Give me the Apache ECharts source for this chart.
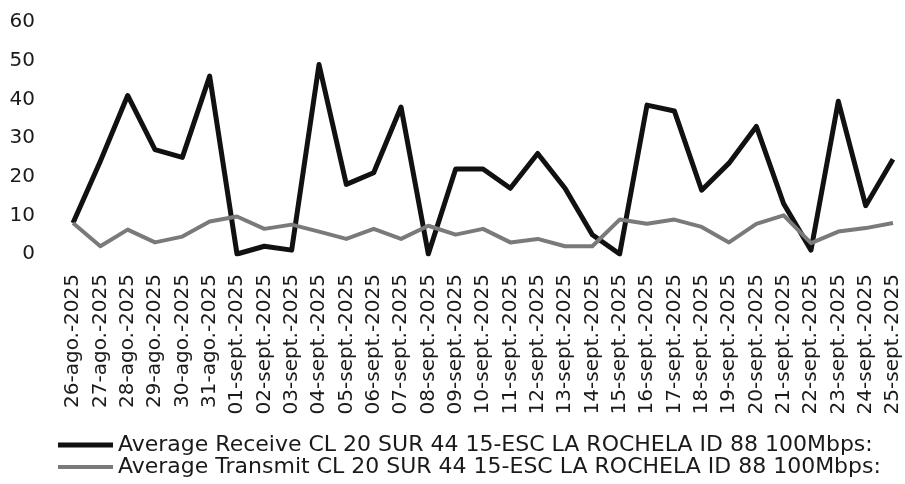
<!DOCTYPE html>
<html>
<head>
<meta charset="utf-8">
<script src="https://cdn.jsdelivr.net/npm/echarts@6/dist/echarts.min.js"></script>
<style>
    html, body { margin: 0; padding: 0; background: #fff; }
    #chart { width: 905px; height: 484px; }
</style>
</head>
<body>
<div id="chart"></div>
<script>
const dates = [
    '26-ago.-2025', '27-ago.-2025', '28-ago.-2025', '29-ago.-2025', '30-ago.-2025', '31-ago.-2025',
    '01-sept.-2025', '02-sept.-2025', '03-sept.-2025', '04-sept.-2025', '05-sept.-2025',
    '06-sept.-2025', '07-sept.-2025', '08-sept.-2025', '09-sept.-2025', '10-sept.-2025',
    '11-sept.-2025', '12-sept.-2025', '13-sept.-2025', '14-sept.-2025', '15-sept.-2025',
    '16-sept.-2025', '17-sept.-2025', '18-sept.-2025', '19-sept.-2025', '20-sept.-2025',
    '21-sept.-2025', '22-sept.-2025', '23-sept.-2025', '24-sept.-2025', '25-sept.-2025'
];

const receive = [
    8, 24, 41, 27, 25, 46,
    0, 2, 1, 49, 18,
    21, 38, 0, 22, 22,
    17, 26, 17, 5, 0,
    38.5, 37, 16.5, 23.5, 33,
    13, 1, 39.5, 12.5, 24.5
];

const transmit = [
    8, 2, 6.3, 3, 4.5, 8.4,
    9.7, 6.5, 7.6, 5.8, 3.9,
    6.5, 3.9, 7.3, 5, 6.5,
    3, 3.9, 2, 2, 8.9,
    7.8, 8.9, 7, 3, 7.8,
    10, 2.8, 5.8, 6.7, 8
];

const seriesNames = [
    'Average Receive CL 20 SUR 44 15-ESC LA ROCHELA ID 88 100Mbps:',
    'Average Transmit CL 20 SUR 44 15-ESC LA ROCHELA ID 88 100Mbps:'
];

const FONT = 'DejaVu Sans';
const TEXT_COLOR = '#1a1a1a';
const RECEIVE_COLOR = '#111';
const TRANSMIT_COLOR = '#7a7a7a';

// one legend per row, so they stack instead of wrapping
function legendRow(name, top, height) {
    return {
        left: 58,
        top: top,
        padding: 0,
        itemWidth: 55,
        itemHeight: height,
        icon: 'rect',
        textStyle: { fontFamily: FONT, fontSize: 22, color: TEXT_COLOR },
        data: [name]
    };
}

const chart = echarts.init(document.getElementById('chart'), null, { renderer: 'canvas' });

chart.setOption({
    backgroundColor: '#fff',
    animation: false,
    grid: { left: 73, right: 12, top: 22, bottom: 230 },
    legend: [
        legendRow(seriesNames[0], 434, 5),
        legendRow(seriesNames[1], 456, 4)
    ],
    xAxis: {
        type: 'category',
        data: dates,
        boundaryGap: false,
        axisLine: { show: false },
        axisTick: { show: false },
        axisLabel: {
            rotate: 90,
            interval: 0,
            margin: 20,
            fontFamily: FONT,
            fontSize: 20,
            color: TEXT_COLOR
        }
    },
    yAxis: {
        type: 'value',
        min: 0,
        max: 60,
        interval: 10,
        axisLine: { show: false },
        axisTick: { show: false },
        splitLine: { show: false },
        axisLabel: {
            margin: 38,
            fontFamily: FONT,
            fontSize: 20,
            color: TEXT_COLOR
        }
    },
    series: [
        {
            name: seriesNames[0],
            type: 'line',
            data: receive,
            showSymbol: false,
            z: 2,
            itemStyle: { color: RECEIVE_COLOR },
            lineStyle: { color: RECEIVE_COLOR, width: 5, join: 'round' }
        },
        {
            name: seriesNames[1],
            type: 'line',
            data: transmit,
            showSymbol: false,
            z: 3,
            itemStyle: { color: TRANSMIT_COLOR },
            lineStyle: { color: TRANSMIT_COLOR, width: 4, join: 'round' }
        }
    ]
});
</script>
</body>
</html>
